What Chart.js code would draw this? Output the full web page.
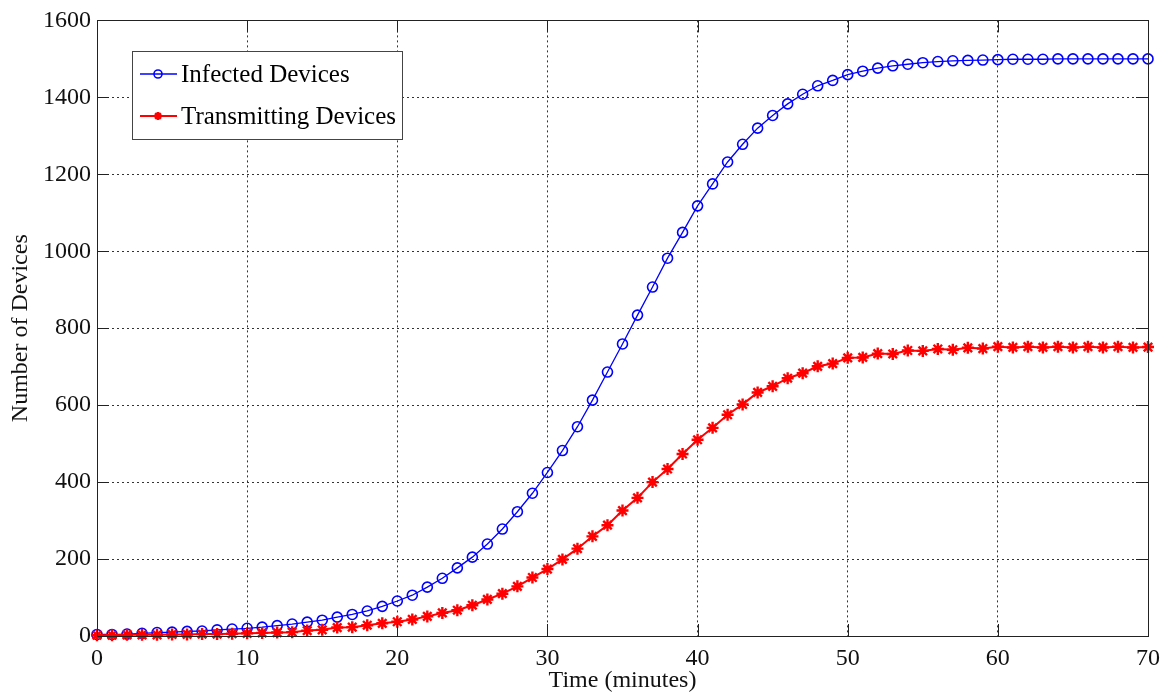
<!DOCTYPE html>
<html>
<head>
<meta charset="utf-8">
<script src="https://cdn.jsdelivr.net/npm/chart.js@4/dist/chart.umd.min.js"></script>
<style>
  html, body { margin: 0; padding: 0; background: #fff; }
</style>
</head>
<body>
<canvas id="myChart" width="1171" height="695"></canvas>
<script>
const minutes = [0, 1, 2, 3, 4, 5, 6, 7, 8, 9, 10, 11, 12, 13, 14, 15, 16, 17, 18, 19, 20,
    21, 22, 23, 24, 25, 26, 27, 28, 29, 30, 31, 32, 33, 34, 35, 36, 37, 38, 39, 40,
    41, 42, 43, 44, 45, 46, 47, 48, 49, 50, 51, 52, 53, 54, 55, 56, 57, 58, 59, 60,
    61, 62, 63, 64, 65, 66, 67, 68, 69, 70];

let infectedValues = [4, 4, 5, 7, 9, 10, 12, 13, 16, 18, 20,
    23, 27, 31, 36, 41, 49, 56, 65, 77, 91,
    106, 127, 150, 177, 205, 239, 278, 323, 371, 425,
    482, 544, 613, 686, 759, 834, 907, 982, 1049, 1118,
    1175, 1232, 1278, 1320, 1353, 1383, 1408, 1430, 1444, 1459,
    1468, 1476, 1482, 1486, 1490, 1493, 1495, 1496, 1497, 1498,
    1499, 1499, 1499, 1500, 1500, 1500, 1500, 1500, 1500, 1500];

let transmittingValues = [2, 2, 3, 3, 3, 4, 4, 5, 5, 6, 7,
    8, 9, 10, 14, 16, 22, 23, 28, 33, 37,
    43, 51, 60, 67, 80, 95, 110, 129, 152, 174,
    199, 227, 259, 288, 326, 359, 400, 434, 473, 510,
    541, 575, 602, 633, 649, 670, 683, 701, 708, 723,
    724, 734, 733, 742, 741, 746, 744, 749, 747, 752,
    750, 752, 750, 752, 750, 752, 750, 752, 750, 751];

const seriesLabels = ['Infected Devices', 'Transmitting Devices'];
const xTicks = [0, 10, 20, 30, 40, 50, 60, 70];
const yTicks = [0, 200, 400, 600, 800, 1000, 1200, 1400, 1600];
const xTitle = 'Time (minutes)';
const yTitle = 'Number of Devices';

const blue = '#0000ff';
const red = '#ff0000';
const serif = "'Liberation Serif', 'Times New Roman', serif";

function toPoints(values) {
    return minutes.map((m, i) => ({ x: m, y: values[i] }));
}

// frame, inward ticks and legend box like the matlab figure
const matlabAxes = {
    id: 'matlabAxes',
    afterDraw(chart) {
        const ctx = chart.ctx;
        const a = chart.chartArea;
        const xs = chart.scales.x;
        const ys = chart.scales.y;
        const tick = 12;
        ctx.save();
        ctx.strokeStyle = '#222';
        ctx.lineWidth = 1;
        ctx.setLineDash([]);
        ctx.beginPath();
        xTicks.forEach(v => {
            const px = Math.round(xs.getPixelForValue(v)) + 0.5;
            ctx.moveTo(px, a.bottom); ctx.lineTo(px, a.bottom - tick);
            ctx.moveTo(px, a.top); ctx.lineTo(px, a.top + tick);
        });
        yTicks.forEach(v => {
            const py = Math.round(ys.getPixelForValue(v)) + 0.5;
            ctx.moveTo(a.left, py); ctx.lineTo(a.left + tick, py);
            ctx.moveTo(a.right, py); ctx.lineTo(a.right - tick, py);
        });
        ctx.stroke();
        ctx.strokeRect(Math.round(a.left) + 0.5, Math.round(a.top) + 0.5,
            Math.round(a.right - a.left), Math.round(a.bottom - a.top));

        // legend
        const bx = 132, by = 51, bw = 270, bh = 88;
        ctx.fillStyle = '#fff';
        ctx.fillRect(bx, by, bw, bh);
        ctx.strokeStyle = '#444';
        ctx.strokeRect(bx + 0.5, by + 0.5, bw, bh);
        const rows = [74, 116];
        chart.data.datasets.forEach((ds, i) => {
            const y = rows[i];
            ctx.strokeStyle = ds.borderColor;
            ctx.lineWidth = ds.borderWidth;
            ctx.beginPath();
            ctx.moveTo(140, y); ctx.lineTo(177, y);
            ctx.stroke();
            ctx.lineWidth = ds.pointBorderWidth;
            ctx.beginPath();
            if (ds.pointStyle === 'circle') {
                ctx.arc(158, y, 4, 0, Math.PI * 2);
            } else {
                const r = 4;
                for (let k = 0; k < 4; k++) {
                    const ang = k * Math.PI / 4;
                    ctx.moveTo(158 - r * Math.cos(ang), y - r * Math.sin(ang));
                    ctx.lineTo(158 + r * Math.cos(ang), y + r * Math.sin(ang));
                }
            }
            ctx.stroke();
            ctx.fillStyle = '#000';
            ctx.font = '25px ' + serif;
            ctx.textBaseline = 'middle';
            ctx.textAlign = 'left';
            ctx.fillText(ds.label, 181, y + 1);
        });
        ctx.restore();
    }
};

const data = {
    datasets: [{
        label: seriesLabels[0],
        data: toPoints(infectedValues),
        borderColor: blue,
        backgroundColor: 'rgba(0,0,0,0)',
        borderWidth: 1.3,
        pointStyle: 'circle',
        pointRadius: 5,
        pointBorderWidth: 1.6,
        pointBackgroundColor: 'rgba(0,0,0,0)',
        pointBorderColor: blue,
        order: 1,
        clip: false
    },
    {
        label: seriesLabels[1],
        data: toPoints(transmittingValues),
        borderColor: red,
        backgroundColor: red,
        borderWidth: 2,
        pointStyle: 'star',
        pointRadius: 6,
        pointBorderWidth: 2.4,
        pointBackgroundColor: red,
        pointBorderColor: red,
        order: 0,
        clip: false
    }]
};

const config = {
    type: 'line',
    data: data,
    options: {
        responsive: false,
        animation: false,
        layout: { padding: { top: 18, right: 23, left: 0, bottom: 0 } },
        plugins: {
            legend: { display: false },
            tooltip: { enabled: false }
        },
        elements: { line: { tension: 0 } },
        scales: {
            x: {
                type: 'linear',
                min: 0,
                max: 70,
                afterFit: s => { s.height = 59; },
                afterBuildTicks: s => { s.ticks = xTicks.map(v => ({ value: v })); },
                grid: { color: '#333', lineWidth: 1, drawTicks: false },
                border: { display: false, dash: [2, 3] },
                ticks: {
                    color: '#111', padding: 8, font: { family: serif, size: 24 },
                    callback: v => String(v)
                },
                title: {
                    display: true, text: xTitle, color: '#111',
                    font: { family: serif, size: 24 }, padding: { top: 0, bottom: 0 }
                }
            },
            y: {
                type: 'linear',
                min: 0,
                max: 1600,
                afterFit: s => { s.width = 97; },
                afterBuildTicks: s => { s.ticks = yTicks.map(v => ({ value: v })); },
                grid: { color: '#333', lineWidth: 1, drawTicks: false },
                border: { display: false, dash: [2, 3] },
                ticks: {
                    color: '#111', padding: 6, font: { family: serif, size: 24 },
                    callback: v => String(v)
                },
                title: {
                    display: true, text: yTitle, color: '#111',
                    font: { family: serif, size: 24 }, padding: { top: 6, bottom: 0 }
                }
            }
        }
    },
    plugins: [matlabAxes]
};

const myChart = new Chart(
    document.getElementById('myChart'),
    config
);
</script>
</body>
</html>
